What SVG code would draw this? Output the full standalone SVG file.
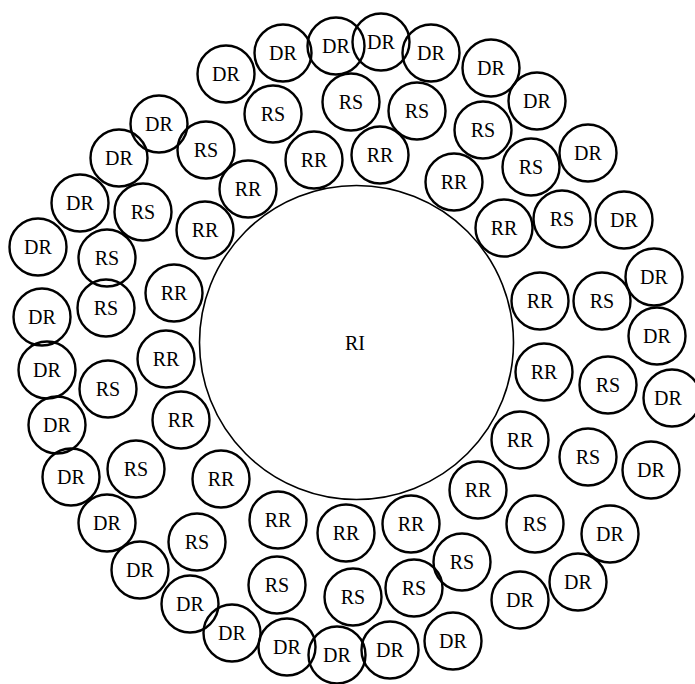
<svg xmlns="http://www.w3.org/2000/svg" width="695" height="684" viewBox="0 0 695 684">
<style>
.c{fill:none;stroke:#000;stroke-width:2.4}
.big{fill:none;stroke:#000;stroke-width:1.6}
text{font-family:"Liberation Serif","Times New Roman",serif;font-size:20px;text-anchor:middle;fill:#000}
</style>
<rect width="695" height="684" fill="#fff"/>
<g id="connectors"></g>
<g id="RI"><circle class="big" cx="356.5" cy="342.5" r="157"/><text x="355" y="350">RI</text></g>
<g id="RR1"><circle class="c" cx="314" cy="160" r="28.5"/><text x="314" y="167">RR</text></g>
<g id="RR2"><circle class="c" cx="380" cy="155" r="28.5"/><text x="380" y="162">RR</text></g>
<g id="RR3"><circle class="c" cx="454" cy="182" r="28.5"/><text x="454" y="189">RR</text></g>
<g id="RR4"><circle class="c" cx="504" cy="228" r="28.5"/><text x="504" y="235">RR</text></g>
<g id="RR5"><circle class="c" cx="540" cy="301" r="28.5"/><text x="540" y="308">RR</text></g>
<g id="RR6"><circle class="c" cx="544" cy="372" r="28.5"/><text x="544" y="379">RR</text></g>
<g id="RR7"><circle class="c" cx="520" cy="440" r="28.5"/><text x="520" y="447">RR</text></g>
<g id="RR8"><circle class="c" cx="478" cy="490" r="28.5"/><text x="478" y="497">RR</text></g>
<g id="RR9"><circle class="c" cx="411" cy="524" r="28.5"/><text x="411" y="531">RR</text></g>
<g id="RR10"><circle class="c" cx="346" cy="533" r="28.5"/><text x="346" y="540">RR</text></g>
<g id="RR11"><circle class="c" cx="278" cy="520" r="28.5"/><text x="278" y="527">RR</text></g>
<g id="RR12"><circle class="c" cx="221" cy="479" r="28.5"/><text x="221" y="486">RR</text></g>
<g id="RR13"><circle class="c" cx="181" cy="420" r="28.5"/><text x="181" y="427">RR</text></g>
<g id="RR14"><circle class="c" cx="166" cy="359" r="28.5"/><text x="166" y="366">RR</text></g>
<g id="RR15"><circle class="c" cx="174" cy="293" r="28.5"/><text x="174" y="300">RR</text></g>
<g id="RR16"><circle class="c" cx="205" cy="230" r="28.5"/><text x="205" y="237">RR</text></g>
<g id="RR17"><circle class="c" cx="248" cy="189" r="28.5"/><text x="248" y="196">RR</text></g>
<g id="RS1"><circle class="c" cx="273" cy="114" r="28.5"/><text x="273" y="121">RS</text></g>
<g id="RS2"><circle class="c" cx="351" cy="102" r="28.5"/><text x="351" y="109">RS</text></g>
<g id="RS3"><circle class="c" cx="417" cy="111" r="28.5"/><text x="417" y="118">RS</text></g>
<g id="RS4"><circle class="c" cx="483" cy="130" r="28.5"/><text x="483" y="137">RS</text></g>
<g id="RS5"><circle class="c" cx="531" cy="167" r="28.5"/><text x="531" y="174">RS</text></g>
<g id="RS6"><circle class="c" cx="562" cy="219" r="28.5"/><text x="562" y="226">RS</text></g>
<g id="RS7"><circle class="c" cx="602" cy="301" r="28.5"/><text x="602" y="308">RS</text></g>
<g id="RS8"><circle class="c" cx="608" cy="385" r="28.5"/><text x="608" y="392">RS</text></g>
<g id="RS9"><circle class="c" cx="588" cy="457" r="28.5"/><text x="588" y="464">RS</text></g>
<g id="RS10"><circle class="c" cx="535" cy="524" r="28.5"/><text x="535" y="531">RS</text></g>
<g id="RS11"><circle class="c" cx="462" cy="562" r="28.5"/><text x="462" y="569">RS</text></g>
<g id="RS12"><circle class="c" cx="414" cy="588" r="28.5"/><text x="414" y="595">RS</text></g>
<g id="RS13"><circle class="c" cx="353" cy="597" r="28.5"/><text x="353" y="604">RS</text></g>
<g id="RS14"><circle class="c" cx="277" cy="585" r="28.5"/><text x="277" y="592">RS</text></g>
<g id="RS15"><circle class="c" cx="197" cy="542" r="28.5"/><text x="197" y="549">RS</text></g>
<g id="RS16"><circle class="c" cx="136" cy="469" r="28.5"/><text x="136" y="476">RS</text></g>
<g id="RS17"><circle class="c" cx="108" cy="389" r="28.5"/><text x="108" y="396">RS</text></g>
<g id="RS18"><circle class="c" cx="107" cy="258" r="28.5"/><text x="107" y="265">RS</text></g>
<g id="RS19"><circle class="c" cx="106" cy="308" r="28.5"/><text x="106" y="315">RS</text></g>
<g id="RS20"><circle class="c" cx="143" cy="212" r="28.5"/><text x="143" y="219">RS</text></g>
<g id="RS21"><circle class="c" cx="206" cy="150" r="28.5"/><text x="206" y="157">RS</text></g>
<g id="DR1"><circle class="c" cx="226" cy="74" r="28.5"/><text x="226" y="81">DR</text></g>
<g id="DR2"><circle class="c" cx="283" cy="53" r="28.5"/><text x="283" y="60">DR</text></g>
<g id="DR3"><circle class="c" cx="336" cy="46" r="28.5"/><text x="336" y="53">DR</text></g>
<g id="DR4"><circle class="c" cx="381" cy="42" r="28.5"/><text x="381" y="49">DR</text></g>
<g id="DR5"><circle class="c" cx="431" cy="53" r="28.5"/><text x="431" y="60">DR</text></g>
<g id="DR6"><circle class="c" cx="491" cy="68" r="28.5"/><text x="491" y="75">DR</text></g>
<g id="DR7"><circle class="c" cx="537" cy="101" r="28.5"/><text x="537" y="108">DR</text></g>
<g id="DR8"><circle class="c" cx="588" cy="153" r="28.5"/><text x="588" y="160">DR</text></g>
<g id="DR9"><circle class="c" cx="624" cy="220" r="28.5"/><text x="624" y="227">DR</text></g>
<g id="DR10"><circle class="c" cx="654" cy="277" r="28.5"/><text x="654" y="284">DR</text></g>
<g id="DR11"><circle class="c" cx="657" cy="336" r="28.5"/><text x="657" y="343">DR</text></g>
<g id="DR12"><circle class="c" cx="672" cy="398" r="28.5"/><text x="668" y="405">DR</text></g>
<g id="DR13"><circle class="c" cx="651" cy="470" r="28.5"/><text x="651" y="477">DR</text></g>
<g id="DR14"><circle class="c" cx="610" cy="534" r="28.5"/><text x="610" y="541">DR</text></g>
<g id="DR15"><circle class="c" cx="578" cy="582" r="28.5"/><text x="578" y="589">DR</text></g>
<g id="DR16"><circle class="c" cx="520" cy="600" r="28.5"/><text x="520" y="607">DR</text></g>
<g id="DR17"><circle class="c" cx="453" cy="641" r="28.5"/><text x="453" y="648">DR</text></g>
<g id="DR18"><circle class="c" cx="390" cy="650" r="28.5"/><text x="390" y="657">DR</text></g>
<g id="DR19"><circle class="c" cx="337" cy="655" r="28.5"/><text x="337" y="662">DR</text></g>
<g id="DR20"><circle class="c" cx="287" cy="647" r="28.5"/><text x="287" y="654">DR</text></g>
<g id="DR21"><circle class="c" cx="232" cy="633" r="28.5"/><text x="232" y="640">DR</text></g>
<g id="DR22"><circle class="c" cx="190" cy="604" r="28.5"/><text x="190" y="611">DR</text></g>
<g id="DR23"><circle class="c" cx="140" cy="570" r="28.5"/><text x="140" y="577">DR</text></g>
<g id="DR24"><circle class="c" cx="107" cy="523" r="28.5"/><text x="107" y="530">DR</text></g>
<g id="DR25"><circle class="c" cx="71" cy="477" r="28.5"/><text x="71" y="484">DR</text></g>
<g id="DR26"><circle class="c" cx="57" cy="425" r="28.5"/><text x="57" y="432">DR</text></g>
<g id="DR27"><circle class="c" cx="47" cy="370" r="28.5"/><text x="47" y="377">DR</text></g>
<g id="DR28"><circle class="c" cx="42" cy="317" r="28.5"/><text x="42" y="324">DR</text></g>
<g id="DR29"><circle class="c" cx="38" cy="247" r="28.5"/><text x="38" y="254">DR</text></g>
<g id="DR30"><circle class="c" cx="80" cy="203" r="28.5"/><text x="80" y="210">DR</text></g>
<g id="DR31"><circle class="c" cx="119" cy="158" r="28.5"/><text x="119" y="165">DR</text></g>
<g id="DR32"><circle class="c" cx="159" cy="124" r="28.5"/><text x="159" y="131">DR</text></g>
</svg>
